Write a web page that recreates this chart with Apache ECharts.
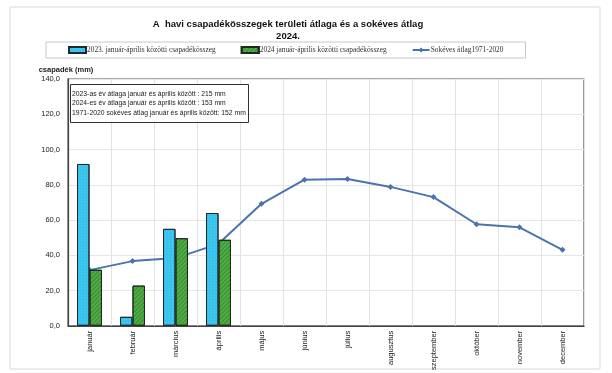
<!DOCTYPE html>
<html>
<head>
<meta charset="utf-8">
<script src="https://cdn.jsdelivr.net/npm/echarts@6/dist/echarts.min.js"></script>
<style>
  html, body { margin: 0; padding: 0; background: #fff; }
  #chart { width: 612px; height: 373px; }
</style>
</head>
<body>
<div id="chart"></div>
<script>
// Monthly precipitation, area average (mm)
const months = ['január', 'február', 'március', 'április', 'május', 'június',
  'július', 'augusztus', 'szeptember', 'október', 'november', 'december'];
const precip2023 = [91.8, 5.1, 55.0, 64.0];
const precip2024 = [31.8, 22.8, 49.7, 48.8];
const longTermAvg = [31.6, 36.7, 38.4, 46.5, 69.2, 82.9, 83.3, 78.8, 73.0, 57.6, 55.9, 43.1];
const yTicks = { min: 0, max: 140, step: 20 };

const seriesNames = [
  '2023. január-április közötti csapadékösszeg',
  '2024 január-április közötti csapadékösszeg',
  'Sokéves átlag1971-2020'
];
const summaryLines = [
  '2023-as év átlaga január és április között : 215 mm',
  '2024-es év átlaga január és április között : 153 mm',
  '1971-2020 sokéves átlag január és április között: 152 mm'
];

const chart = echarts.init(document.getElementById('chart'), null, { renderer: 'canvas' });

chart.setOption({
  backgroundColor: '#fff',
  animation: false,
  graphic: [{
    type: 'rect',
    shape: { x: 10, y: 7, width: 590, height: 362 },
    style: { fill: 'none', stroke: '#d9d9d9', lineWidth: 1 },
    silent: true
  }],
  title: [{
    text: 'A  havi csapadékösszegek területi átlaga és a sokéves átlag\n2024.',
    left: 283,
    top: 13,
    textAlign: 'center',
    textStyle: { fontFamily: 'Liberation Sans', fontSize: 9.5, fontWeight: 'bold', color: '#111', lineHeight: 12 }
  }, {
    text: summaryLines.join('\n'),
    left: 70,
    top: 84,
    padding: [5, 3, 5, 2],
    borderColor: '#333',
    borderWidth: 1,
    backgroundColor: '#fff',
    textStyle: { fontFamily: 'Liberation Sans', fontSize: 6.8, fontWeight: 'normal', color: '#222', lineHeight: 9.5 }
  }],
  legend: {
    left: 46,
    top: 42,
    padding: [4, 22, 4, 22],
    itemGap: 25,
    itemWidth: 17,
    itemHeight: 6,
    borderColor: '#c8c8c8',
    borderWidth: 1,
    textStyle: { fontFamily: 'Liberation Serif', fontSize: 7.4, color: '#333', padding: [0, 0, 0, -4] },
    data: [
      { name: seriesNames[0], icon: 'rect' },
      { name: seriesNames[1], icon: 'rect' },
      { name: seriesNames[2] }
    ]
  },
  grid: {
    left: 68, right: 28, top: 79, bottom: 45.5,
    show: true, borderColor: '#555', borderWidth: 1.2
  },
  xAxis: {
    type: 'category',
    data: months,
    axisTick: { show: false },
    axisLine: { lineStyle: { color: '#444', width: 1.2 } },
    axisLabel: {
      rotate: 90, interval: 0, margin: 5,
      fontFamily: 'Liberation Sans', fontSize: 7.5, color: '#222'
    },
    splitLine: { show: true, lineStyle: { color: '#e2e2e2', width: 1 } }
  },
  yAxis: {
    type: 'value',
    min: yTicks.min, max: yTicks.max, interval: yTicks.step,
    name: 'csapadék (mm)',
    nameLocation: 'end',
    nameGap: 5,
    nameTextStyle: { fontFamily: 'Liberation Sans', fontSize: 7.5, fontWeight: 'bold', color: '#222', align: 'center', padding: [0, 4, 0, 0] },
    axisLine: { show: true, lineStyle: { color: '#444', width: 1.2 } },
    axisTick: { show: false },
    axisLabel: {
      margin: 8,
      fontFamily: 'Liberation Sans', fontSize: 7.5, color: '#222',
      formatter: v => v.toFixed(1).replace('.', ',')
    },
    splitLine: { lineStyle: { color: '#e6e6e6', width: 1 } }
  },
  series: [{
    name: seriesNames[0],
    type: 'bar',
    data: precip2023,
    z: 3,
    barGap: '0%',
    barCategoryGap: '42%',
    itemStyle: {
      color: '#35c2ee',
      borderColor: '#1d2a33',
      borderWidth: 1,
      decal: {
        symbol: 'circle',
        symbolSize: 0.5,
        color: 'rgba(255,255,255,0.35)',
        dashArrayX: [2, 1],
        dashArrayY: [2, 1]
      }
    }
  }, {
    name: seriesNames[1],
    type: 'bar',
    data: precip2024,
    z: 3,
    itemStyle: {
      color: '#4fae44',
      borderColor: '#1d2a1a',
      borderWidth: 1,
      decal: {
        symbol: 'rect',
        rotation: -Math.PI / 4,
        color: 'rgba(30,90,30,0.45)',
        dashArrayX: [1, 0],
        dashArrayY: [1, 2]
      }
    }
  }, {
    name: seriesNames[2],
    type: 'line',
    data: longTermAvg,
    z: 1,
    symbol: 'diamond',
    symbolSize: 6,
    lineStyle: { color: '#4a74ad', width: 2 },
    itemStyle: { color: '#4a74ad' }
  }]
});
</script>
</body>
</html>
